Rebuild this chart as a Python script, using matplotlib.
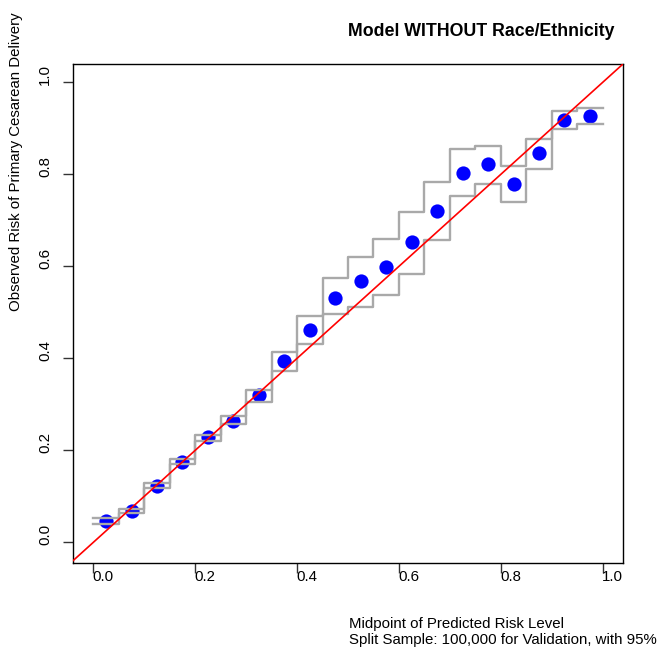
import matplotlib
matplotlib.use("Agg")
import matplotlib.pyplot as plt
from matplotlib import transforms
import numpy as np

plt.rcParams['font.family'] = ['Liberation Sans', 'DejaVu Sans']

# bin edges / midpoints of predicted risk
edges = np.arange(0, 1.0001, 0.05)
mid = edges[:-1] + 0.025

observed = [0.046, 0.069, 0.122, 0.175, 0.228, 0.264, 0.321, 0.395, 0.462, 0.531,
            0.568, 0.599, 0.652, 0.721, 0.803, 0.822, 0.779, 0.846, 0.918, 0.927]
upper = [0.052, 0.073, 0.129, 0.182, 0.233, 0.274, 0.331, 0.413, 0.491, 0.574,
         0.621, 0.659, 0.718, 0.783, 0.856, 0.862, 0.819, 0.878, 0.937, 0.945]
lower = [0.040, 0.064, 0.117, 0.170, 0.220, 0.257, 0.306, 0.373, 0.431, 0.496,
         0.512, 0.537, 0.584, 0.657, 0.752, 0.780, 0.739, 0.812, 0.899, 0.909]

ticks = [0.0, 0.2, 0.4, 0.6, 0.8, 1.0]
tick_labels = ["0.0", "0.2", "0.4", "0.6", "0.8", "1.0"]

W, H = 661, 653
fig = plt.figure(figsize=(W / 100, H / 100), dpi=100)
ax = fig.add_axes([73 / W, (H - 563) / H, 550 / W, 499 / H])

ax.scatter(mid, observed, s=105, color='blue', zorder=2, linewidths=0)
for band in (upper, lower):
    ax.step(edges, list(band) + [band[-1]], where='post', color='#a9a9a9', lw=1.7, zorder=3)
ax.plot([-0.04, 1.04], [-0.04, 1.04], color='red', lw=1.2, zorder=4)

ax.set_xlim(-0.04, 1.04)
ax.set_ylim(-0.045, 1.04)
ax.set_xticks(ticks)
ax.set_yticks(ticks)
ax.set_xticklabels([])
ax.set_yticklabels([])
ax.tick_params(length=7, width=1, color='#333333')
for s in ax.spines.values():
    s.set_linewidth(1.0)

# tick labels (shifted a bit like the original rendering)
fs = 10.8
xoff = transforms.offset_copy(ax.get_xaxis_transform(), fig=fig, x=10 * 0.72, y=-14 * 0.72, units='points')
for t, lab in zip(ticks, tick_labels):
    ax.text(t, 0, lab, transform=xoff, ha='center', va='center', fontsize=fs)
yoff = transforms.offset_copy(ax.get_yaxis_transform(), fig=fig, x=-28 * 0.72, y=8 * 0.72, units='points')
for t, lab in zip(ticks, tick_labels):
    ax.text(0, t, lab, transform=yoff, ha='center', va='center', fontsize=fs, rotation=90)

fig.text(481.7 / W, 1 - 31.5 / H, "Model WITHOUT Race/Ethnicity", ha='center', va='center',
         fontsize=12.8, fontweight='bold')
fig.text(349 / W, 1 - 632 / H, "Midpoint of Predicted Risk Level\nSplit Sample: 100,000 for Validation, with 95%",
         ha='left', va='center', fontsize=fs, linespacing=1.15)
fig.text(16 / W, 1 - 162 / H, "Observed Risk of Primary Cesarean Delivery", ha='center', va='center',
         fontsize=fs, rotation=90)

fig.savefig("out.png", dpi=100)
